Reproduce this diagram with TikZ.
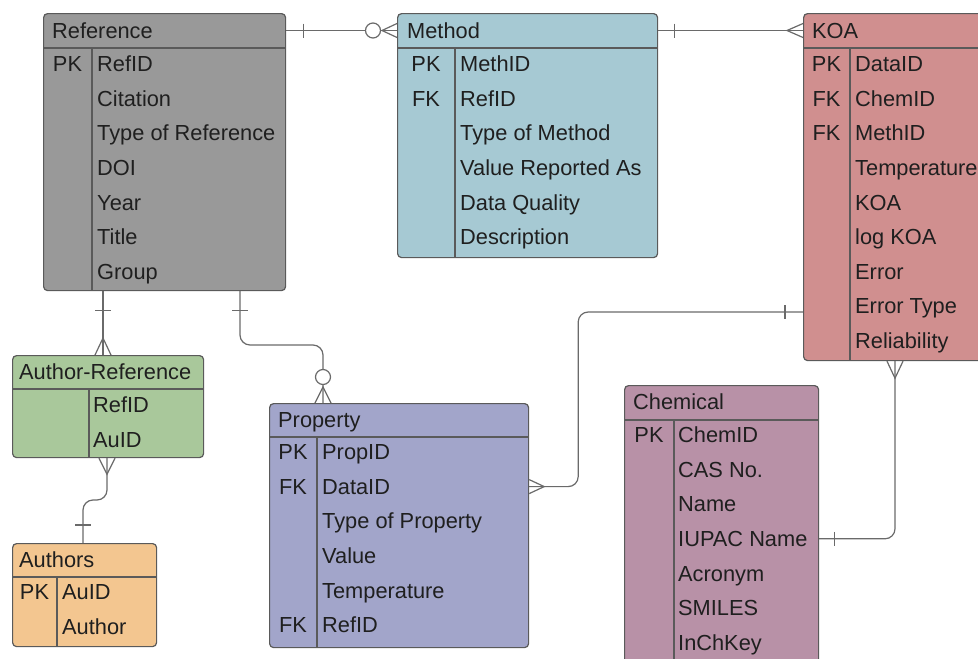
\documentclass[tikz,border=0pt]{standalone}
\usepackage{fontspec}
\setmainfont{Liberation Sans}
\usetikzlibrary{calc}

\definecolor{refgray}{HTML}{999999}
\definecolor{methblue}{HTML}{A6C9D3}
\definecolor{koared}{HTML}{D08F8F}
\definecolor{arefgreen}{HTML}{A9C89B}
\definecolor{authorange}{HTML}{F3C690}
\definecolor{propblue}{HTML}{A2A5CA}
\definecolor{chemmauve}{HTML}{B891A7}
\definecolor{edgegray}{HTML}{5A5A5A}
\definecolor{linkgray}{HTML}{6A6A6A}

\begin{document}
\begin{tikzpicture}[x=1pt, y=-1pt, font=\fontsize{21.8}{24}\selectfont,
    entity/.style={draw=edgegray, line width=1.2pt, rounded corners=4pt, anchor=north west, inner sep=0pt},
    inner/.style={draw=edgegray, line width=1.1pt},
    field/.style={anchor=west, inner sep=0pt, text height=15.5pt, text depth=0pt, text=black!88},
    keyfield/.style={inner sep=0pt, text height=15.5pt, text depth=0pt, text=black!88},
    rel/.style={draw=linkgray, line width=1.2pt}]
  \clip (0, 0) rectangle (978, 659);
  \fill[white] (0, 0) rectangle (978, 659);

  % Reference
  \node[entity, fill=refgray, minimum width=242pt, minimum height=277pt] (ref) at (43, 13) {};
  \draw[inner] (43, 48) -- (285, 48);
  \draw[inner] (92, 48) -- (92, 290);
  \node[field] (ref-title) at (52, 30.5) {Reference};
  \node[keyfield] (ref-pk) at (67.5, 64) {PK};
  \foreach \f [count=\i from 0] in {RefID, Citation, Type of Reference, DOI, Year, Title, Group}
    \node[field] (ref-\i) at (97, {64+34.6*\i}) {\f};

  % Method
  \node[entity, fill=methblue, minimum width=260pt, minimum height=244pt] (meth) at (397, 13) {};
  \draw[inner] (397, 48) -- (657, 48);
  \draw[inner] (455, 48) -- (455, 257);
  \node[field] (meth-title) at (407, 30.5) {Method};
  \node[keyfield] (meth-pk) at (426, 64) {PK};
  \node[keyfield] (meth-fk) at (426, 98.6) {FK};
  \foreach \f [count=\i from 0] in {MethID, RefID, Type of Method, Value Reported As, Data Quality, Description}
    \node[field] (meth-\i) at (460, {64+34.6*\i}) {\f};

  % KOA
  \node[entity, fill=koared, minimum width=200pt, minimum height=347pt] (koa) at (803, 13) {};
  \draw[inner] (803, 48) -- (1003, 48);
  \draw[inner] (850, 48) -- (850, 360);
  \node[field] (koa-title) at (812, 30.5) {KOA};
  \node[keyfield] (koa-pk) at (826.5, 64) {PK};
  \node[keyfield] (koa-fka) at (826.5, 98.6) {FK};
  \node[keyfield] (koa-fkb) at (826.5, 133.2) {FK};
  \foreach \f [count=\i from 0] in {DataID, ChemID, MethID, Temperature, KOA, log KOA, Error, Error Type, Reliability}
    \node[field] (koa-\i) at (855, {64+34.6*\i}) {\f};

  % Author-Reference
  \node[entity, fill=arefgreen, minimum width=191pt, minimum height=102pt] (aref) at (12, 355) {};
  \draw[inner] (12, 389) -- (203, 389);
  \draw[inner] (89, 389) -- (89, 457);
  \node[field] (aref-title) at (19, 372) {Author-Reference};
  \foreach \f [count=\i from 0] in {RefID, AuID}
    \node[field] (aref-\i) at (93, {405+34.6*\i}) {\f};

  % Authors
  \node[entity, fill=authorange, minimum width=144pt, minimum height=103pt] (auth) at (12, 543) {};
  \draw[inner] (12, 577) -- (156, 577);
  \draw[inner] (57, 577) -- (57, 646);
  \node[field] (auth-title) at (19, 560) {Authors};
  \node[keyfield] (auth-pk) at (34.5, 592) {PK};
  \foreach \f [count=\i from 0] in {AuID, Author}
    \node[field] (auth-\i) at (62, {592+34.6*\i}) {\f};

  % Property
  \node[entity, fill=propblue, minimum width=259pt, minimum height=244pt] (prop) at (269, 403) {};
  \draw[inner] (269, 437) -- (528, 437);
  \draw[inner] (317, 437) -- (317, 647);
  \node[field] (prop-title) at (278, 420) {Property};
  \node[keyfield] (prop-pk) at (293, 452) {PK};
  \node[keyfield] (prop-fka) at (293, 486.6) {FK};
  \node[keyfield] (prop-fkb) at (293, 625) {FK};
  \foreach \f [count=\i from 0] in {PropID, DataID, Type of Property, Value, Temperature, RefID}
    \node[field] (prop-\i) at (322, {452+34.6*\i}) {\f};

  % Chemical
  \node[entity, fill=chemmauve, minimum width=194pt, minimum height=300pt] (chem) at (624, 385) {};
  \draw[inner] (624, 420) -- (818, 420);
  \draw[inner] (674, 420) -- (674, 685);
  \node[field] (chem-title) at (633, 402) {Chemical};
  \node[keyfield] (chem-pk) at (649, 435) {PK};
  \foreach \f [count=\i from 0] in {ChemID, CAS No., Name, IUPAC Name, Acronym, SMILES, InChKey}
    \node[field] (chem-\i) at (678, {435+34.6*\i}) {\f};

  % Reference -- Method
  \coordinate (rm1) at (ref.east |- ref-title);
  \coordinate (rm2) at (meth.west |- meth-title);
  \draw[rel] (rm1) -- (rm2);
  \draw[rel] ($(rm1)+(17,-7)$) -- ++(0,14);
  \draw[rel, fill=white] ($(rm2)+(-24,0)$) circle (7.5pt);
  \draw[rel] ($(rm2)+(0,-7)$) -- ++(-15,7) -- ++(15,7);

  % Method -- KOA
  \coordinate (mk1) at (meth.east |- meth-title);
  \coordinate (mk2) at (koa.west |- koa-title);
  \draw[rel] (mk1) -- (mk2);
  \draw[rel] ($(mk1)+(16,-7)$) -- ++(0,14);
  \draw[rel] ($(mk2)+(0,-7)$) -- ++(-16,7) -- ++(16,7);

  % Reference -- Author-Reference
  \coordinate (ra1) at ([xshift=60pt]ref.south west);
  \coordinate (ra2) at (ra1 |- aref.north);
  \draw[rel] (ra1) -- (ra2);
  \draw[rel] ($(ra1)+(-8,19)$) -- ++(16,0);
  \draw[rel] ($(ra2)+(-8,0)$) -- ++(8,-17) -- ++(8,17);

  % Reference -- Property
  \coordinate (rp1) at ([xshift=197pt]ref.south west);
  \coordinate (rp2) at ([xshift=54pt]prop.north west);
  \draw[rel, rounded corners=10pt] (rp1) |- ($(rp2)+(0,-58)$) -- (rp2);
  \draw[rel] ($(rp1)+(-8,19)$) -- ++(16,0);
  \draw[rel, fill=white] ($(rp2)+(0,-26)$) circle (7.5pt);
  \draw[rel] ($(rp2)+(-8,0)$) -- ++(8,-16) -- ++(8,16);

  % KOA -- Property
  \coordinate (kp1) at ([yshift=-299pt]koa.north west);
  \coordinate (kp2) at (prop.east |- prop-1);
  \draw[rel, rounded corners=10pt] (kp1) -| ($(kp2)+(49,0)$) -- (kp2);
  \draw[rel] ($(kp1)+(-18,-7)$) -- ++(0,14);
  \draw[rel] ($(kp2)+(0,-7)$) -- ++(15,7) -- ++(-15,7);

  % KOA -- Chemical
  \coordinate (kc1) at ([xshift=92pt]koa.south west);
  \coordinate (kc2) at (chem.east |- chem-3);
  \draw[rel, rounded corners=10pt] (kc1) |- (kc2);
  \draw[rel] ($(kc1)+(-8,0)$) -- ++(8,17) -- ++(8,-17);
  \draw[rel] ($(kc2)+(15,-7)$) -- ++(0,14);

  % Author-Reference -- Authors
  \coordinate (aa1) at ([xshift=95pt]aref.south west);
  \coordinate (aa2) at ([xshift=71pt]auth.north west);
  \draw[rel, rounded corners=10pt] (aa1) |- ($(aa2)+(0,-43)$) -- (aa2);
  \draw[rel] ($(aa1)+(-8,0)$) -- ++(8,16) -- ++(8,-16);
  \draw[rel] ($(aa2)+(-8,-18)$) -- ++(16,0);
\end{tikzpicture}
\end{document}
